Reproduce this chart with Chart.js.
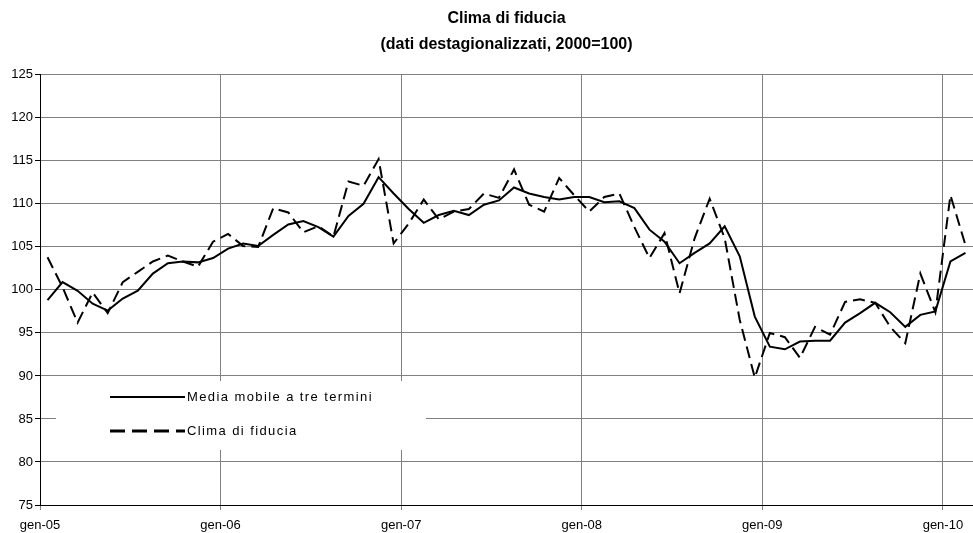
<!DOCTYPE html>
<html>
<head>
<meta charset="utf-8">
<script src="https://cdn.jsdelivr.net/npm/chart.js@4/dist/chart.umd.min.js"></script>
<style>
  html, body { margin: 0; padding: 0; background: #fff; }
  canvas { display: block; }
</style>
</head>
<body>
<canvas id="chart" width="973" height="533"></canvas>
<script>
// monthly data, gen-05 .. feb-10 (62 months)
const yearLabels = ['gen-05', 'gen-06', 'gen-07', 'gen-08', 'gen-09', 'gen-10'];
const monthsPerYear = 12;
const monthCount = 62;

const climaFiducia = [
  103.8, 100.3, 96.2, 99.7, 97.3, 100.9, 102.1, 103.3, 104.0, 103.3, 102.7, 105.6,
  106.5, 105.1, 105.0, 109.5, 109.0, 106.7, 107.4, 106.2, 112.6, 112.1, 115.2, 105.4,
  107.7, 110.5, 108.2, 109.1, 109.4, 111.2, 110.7, 114.0, 109.9, 109.1, 113.0, 111.0,
  109.1, 110.8, 111.2, 107.3, 103.7, 106.6, 99.6, 106.0, 110.6, 106.0, 96.5, 89.8,
  95.0, 94.5, 92.1, 95.7, 94.8, 98.6, 98.9, 98.5, 95.7, 93.8, 101.9, 97.4,
  111.0, 105.2
];

const mediaMobile = [
  98.8, 100.9, 99.9, 98.4, 97.6, 99.0, 99.9, 101.9, 103.1, 103.3, 103.2, 103.7,
  104.8, 105.4, 105.1, 106.4, 107.6, 108.0, 107.3, 106.2, 108.6, 110.0, 113.1, 111.2,
  109.4, 107.8, 108.7, 109.2, 108.7, 109.9, 110.4, 111.9, 111.2, 110.8, 110.5, 110.8,
  110.8, 110.2, 110.3, 109.5, 107.0, 105.6, 103.1, 104.3, 105.4, 107.4, 103.9, 96.9,
  93.4, 93.1, 94.0, 94.1, 94.1, 96.2, 97.3, 98.5, 97.4, 95.7, 97.1, 97.5,
  103.3, 104.3
];

const yMin = 75;
const yMax = 125;
const yStep = 5;

const seriesNames = ['Media mobile a tre termini', 'Clima di fiducia'];

const FONT = '"Liberation Sans", Arial, sans-serif';

// each month sits in the middle of its slot
const toPoints = arr => arr.map((v, i) => ({ x: i + 0.5, y: v }));

// legend box drawn inside the plot, like the original
const insideLegend = {
  id: 'insideLegend',
  beforeDatasetsDraw(chart) {
    const { ctx, chartArea } = chart;
    const left = chartArea.left + 16;
    const top = chartArea.bottom - 124;
    ctx.save();
    ctx.fillStyle = '#fff';
    ctx.fillRect(left, top, 370, 69);

    const x0 = left + 54;
    const x1 = left + 129;
    const rows = [top + 16, top + 50];

    ctx.strokeStyle = '#000';
    ctx.lineWidth = 2;
    ctx.beginPath();
    ctx.moveTo(x0, rows[0]);
    ctx.lineTo(x1, rows[0]);
    ctx.stroke();

    ctx.lineWidth = 3;
    ctx.setLineDash([15, 7]);
    ctx.beginPath();
    ctx.moveTo(x0, rows[1]);
    ctx.lineTo(x1, rows[1]);
    ctx.stroke();
    ctx.setLineDash([]);

    ctx.fillStyle = '#000';
    ctx.font = '13px ' + FONT;
    ctx.letterSpacing = '1.4px';
    ctx.textBaseline = 'middle';
    ctx.textAlign = 'left';
    ctx.fillText(seriesNames[0], x1 + 2, rows[0]);
    ctx.fillText(seriesNames[1], x1 + 2, rows[1]);
    ctx.restore();
  }
};

new Chart(document.getElementById('chart'), {
  type: 'line',
  data: {
    datasets: [{
      label: seriesNames[0],
      data: toPoints(mediaMobile),
      borderColor: '#000',
      borderWidth: 2,
      pointRadius: 0,
      tension: 0,
    }, {
      label: seriesNames[1],
      data: toPoints(climaFiducia),
      borderColor: '#000',
      borderWidth: 2,
      borderDash: [12, 6],
      pointRadius: 0,
      tension: 0,
    }],
  },
  options: {
    responsive: false,
    animation: false,
    layout: { padding: 0 },
    plugins: {
      legend: { display: false },
      tooltip: { enabled: false },
      title: {
        display: true,
        fullSize: false,
        text: ['Clima di fiducia', '(dati destagionalizzati, 2000=100)'],
        color: '#000',
        font: { family: FONT, size: 16, weight: 'bold', lineHeight: 1.65 },
        padding: { top: 5, bottom: 17 },
      },
    },
    scales: {
      x: {
        type: 'linear',
        min: 0,
        max: monthCount,
        afterBuildTicks: scale => {
          scale.ticks = yearLabels.map((_, k) => ({ value: k * monthsPerYear }));
        },
        afterFit: scale => { scale.height = 28; },
        ticks: {
          autoSkip: false,
          maxRotation: 0,
          padding: 8,
          color: '#000',
          font: { family: FONT, size: 13 },
          callback: v => yearLabels[v / monthsPerYear],
        },
        grid: {
          color: '#808080',
          lineWidth: 1,
          tickLength: 5,
          tickColor: '#808080',
        },
        border: { display: true, color: '#000', width: 1 },
      },
      y: {
        min: yMin,
        max: yMax,
        afterFit: scale => { scale.width = 40; },
        ticks: {
          stepSize: yStep,
          padding: 2,
          color: '#000',
          font: { family: FONT, size: 13 },
        },
        grid: {
          color: '#808080',
          lineWidth: 1,
          tickLength: 5,
          tickColor: '#000',
        },
        border: { display: true, color: '#000', width: 1 },
      },
    },
  },
  plugins: [insideLegend],
});
</script>
</body>
</html>
